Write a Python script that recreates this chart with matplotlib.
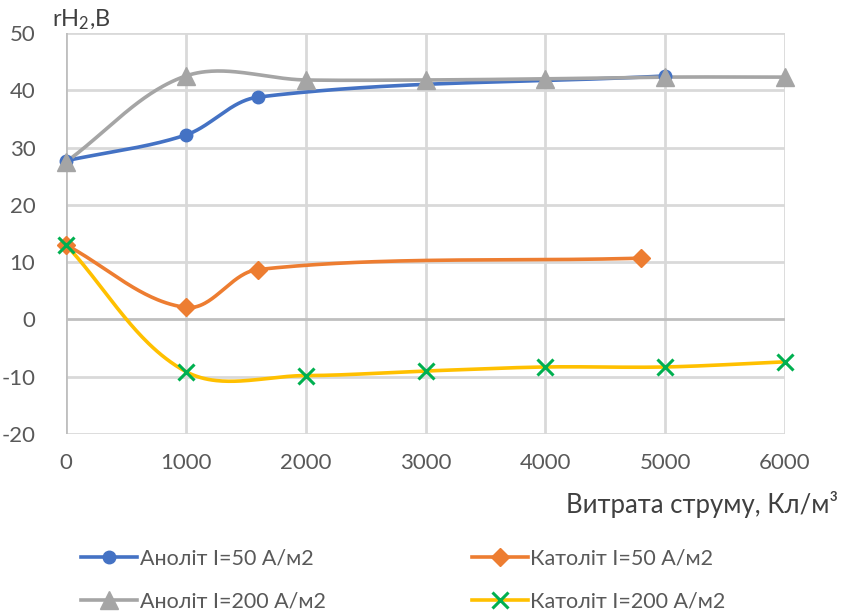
import numpy as np
import matplotlib
matplotlib.use("Agg")
import matplotlib.pyplot as plt
from matplotlib.lines import Line2D

plt.rcParams['font.family'] = ['Lato', 'DejaVu Sans']
plt.rcParams['mathtext.fontset'] = 'custom'
plt.rcParams['mathtext.rm'] = 'Lato'
plt.rcParams['mathtext.it'] = 'Lato'
plt.rcParams['axes.unicode_minus'] = False

# Series data: current consumption (C/m3) vs rH2
anolyte_50_x = [0, 1000, 1600, 5000]
anolyte_50_y = [27.7, 32.2, 38.8, 42.5]
catholyte_50_x = [0, 1000, 1600, 4800]
catholyte_50_y = [13.0, 2.1, 8.7, 10.7]
anolyte_200_x = [0, 1000, 2000, 3000, 4000, 5000, 6000]
anolyte_200_y = [27.5, 42.5, 41.8, 41.8, 42.0, 42.3, 42.3]
catholyte_200_x = [0, 1000, 2000, 3000, 4000, 5000, 6000]
catholyte_200_y = [13.0, -9.1, -9.8, -9.0, -8.3, -8.3, -7.4]

labels = ["Аноліт I=50 А/м2", "Католіт I=50 А/м2",
          "Аноліт I=200 А/м2", "Католіт I=200 А/м2"]
x_ticks = [0, 1000, 2000, 3000, 4000, 5000, 6000]
y_ticks = [-20, -10, 0, 10, 20, 30, 40, 50]

BLUE, ORANGE, GRAY, YELLOW, GREEN = "#4472C4", "#ED7D31", "#A5A5A5", "#FFC000", "#00B050"
TXT = "#595959"


def smooth(xs, ys, sx=719 / 6000, sy=401 / 70, n=60):
    """Bezier smoothing of a polyline with chord-weighted tangents (screen-scaled)."""
    p = np.column_stack([np.asarray(xs, float) * sx, np.asarray(ys, float) * sy])
    m = len(p)
    out = []
    t = np.linspace(0, 1, n)[:, None]

    def tangent(i):
        a = p[max(i - 1, 0)]
        b = p[min(i + 1, m - 1)]
        return b - a, np.linalg.norm(b - a)

    for i in range(m - 1):
        p1, p2 = p[i], p[i + 1]
        L = np.linalg.norm(p2 - p1)
        d1, n1 = tangent(i)
        d2, n2 = tangent(i + 1)
        c1 = p1 + d1 / max(n1, 1e-9) * L / 3
        c2 = p2 - d2 / max(n2, 1e-9) * L / 3
        seg = ((1 - t) ** 3) * p1 + 3 * ((1 - t) ** 2) * t * c1 + 3 * (1 - t) * t ** 2 * c2 + t ** 3 * p2
        out.append(seg if i == 0 else seg[1:])
    out = np.vstack(out)
    return out[:, 0] / sx, out[:, 1] / sy


fig = plt.figure(figsize=(8.44, 6.16), dpi=100)
ax = fig.add_axes([66 / 844, 1 - 434 / 616, 719 / 844, 401 / 616])
ax.set_xlim(0, 6000)
ax.set_ylim(-20, 50)

for v in x_ticks[1:]:
    ax.axvline(v, color="#D9D9D9", lw=2, zorder=0)
for v in y_ticks:
    ax.axhline(v, color="#BFBFBF" if v == 0 else "#D9D9D9", lw=2, zorder=0)
for s in ax.spines.values():
    s.set_visible(False)
ax.axvline(0, color="#BFBFBF", lw=2, zorder=0.5)

ax.set_xticks(x_ticks)
ax.set_yticks(y_ticks)
ax.tick_params(axis="both", length=0, labelsize=16, labelcolor=TXT)
ax.tick_params(axis="y", pad=22)
ax.tick_params(axis="x", pad=14)

series = [
    (anolyte_50_x, anolyte_50_y, BLUE, dict(marker="o", ms=9, mfc=BLUE, mec=BLUE)),
    (catholyte_50_x, catholyte_50_y, ORANGE, dict(marker="D", ms=9, mfc=ORANGE, mec=ORANGE)),
    (anolyte_200_x, anolyte_200_y, GRAY, dict(marker="^", ms=13, mfc=GRAY, mec=GRAY)),
    (catholyte_200_x, catholyte_200_y, YELLOW, dict(marker="x", ms=11, mec=GREEN, mew=2.2)),
]
handles = []
for xs, ys, col, mk in series:
    sxv, syv = smooth(xs, ys)
    ax.plot(sxv, syv, color=col, lw=2.6, clip_on=False, zorder=3, solid_capstyle="round")
    ax.plot(xs, ys, ls="none", clip_on=False, zorder=4, **mk)
    handles.append(Line2D([], [], color=col, lw=2.6, **mk))

fig.text(52 / 844, 1 - 20 / 616, r"rH$_2$,B", fontsize=17, color="#404040", va="center", ha="left")
fig.text(838 / 844, 1 - 505 / 616, "Витрата струму, Кл/м³", fontsize=18.5, color="#404040",
         va="center", ha="right")

order = [0, 2, 1, 3]
fig.legend([handles[i] for i in order], [labels[i] for i in order], ncol=2,
           loc="center left", bbox_to_anchor=(62 / 844, 1 - 580 / 616), frameon=False,
           fontsize=15.5, labelcolor=TXT, handlelength=2.6, handletextpad=0.1,
           columnspacing=6.8, labelspacing=1.1)

fig.savefig("out.png", dpi=100)
